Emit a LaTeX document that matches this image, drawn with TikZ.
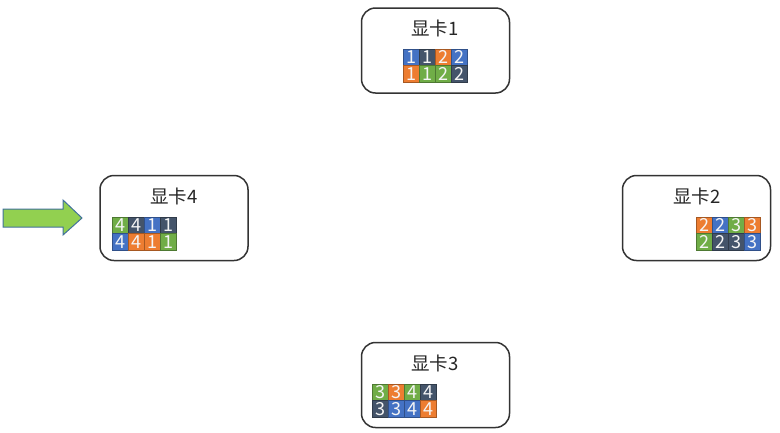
\documentclass[tikz,border=0pt]{standalone}
\usepackage{fontspec}
\setmainfont{Noto Sans CJK SC}
\usetikzlibrary{positioning}

\definecolor{cb}{RGB}{68,114,196}
\definecolor{cd}{RGB}{68,84,106}
\definecolor{co}{RGB}{237,125,49}
\definecolor{cg}{RGB}{112,173,71}
\definecolor{arrowgreen}{RGB}{146,208,80}
\definecolor{arrowedge}{RGB}{65,113,156}

\begin{document}
\begin{tikzpicture}[x=1pt, y=-1pt,
    card/.style={rectangle, rounded corners=14pt, draw=black!80, line width=1.5pt,
      minimum width=148pt, minimum height=85pt, fill=white},
    title/.style={font=\fontsize{18.5}{18.5}\selectfont, inner sep=0pt, text=black!85},
    cell/.style={rectangle, minimum width=16pt, minimum height=16.5pt, inner sep=0pt,
      text height=12.5pt, text depth=0pt, font=\fontsize{18}{18}\selectfont,
      text=white!92!gray, line width=0.6pt},
  ]
  \useasboundingbox (0,0) rectangle (780,432);

  % the four cards
  \node[card] (card1) at (435.5,50.5) {};
  \node[card] (card2) at (696.5,218) {};
  \node[card] (card3) at (435.5,385) {};
  \node[card] (card4) at (174,218) {};

  \node[title] (t1) at (435,28) {显卡1};
  \node[title] (t2) at (697,196) {显卡2};
  \node[title] (t3) at (435,363) {显卡3};
  \node[title] (t4) at (174,196) {显卡4};

  % card 1
  \foreach \c/\n [count=\i] in {cb/1,cd/1,co/2,cb/2}
    \node[cell, fill=\c, draw=\c!70!black] (a1\i) at (395+16*\i,57.25) {\n};
  \foreach \c/\n [count=\i] in {co/1,cg/1,cg/2,cd/2}
    \node[cell, fill=\c, draw=\c!70!black] (b1\i) at (395+16*\i,73.75) {\n};

  % card 2
  \foreach \c/\n [count=\i] in {co/2,cb/2,cg/3,co/3}
    \node[cell, fill=\c, draw=\c!70!black] (a2\i) at (688+16*\i,225.25) {\n};
  \foreach \c/\n [count=\i] in {cg/2,cd/2,cd/3,cb/3}
    \node[cell, fill=\c, draw=\c!70!black] (b2\i) at (688+16*\i,241.75) {\n};

  % card 3
  \foreach \c/\n [count=\i] in {cg/3,co/3,cg/4,cd/4}
    \node[cell, fill=\c, draw=\c!70!black] (a3\i) at (364+16*\i,392.25) {\n};
  \foreach \c/\n [count=\i] in {cd/3,cb/3,cb/4,co/4}
    \node[cell, fill=\c, draw=\c!70!black] (b3\i) at (364+16*\i,408.75) {\n};

  % card 4
  \foreach \c/\n [count=\i] in {cg/4,cd/4,cb/1,cd/1}
    \node[cell, fill=\c, draw=\c!70!black] (a4\i) at (104+16*\i,225.25) {\n};
  \foreach \c/\n [count=\i] in {cb/4,co/4,co/1,cg/1}
    \node[cell, fill=\c, draw=\c!70!black] (b4\i) at (104+16*\i,241.75) {\n};

  % input arrow
  \draw[fill=arrowgreen, draw=arrowedge, line width=1pt]
    (3,209) -- (63,209) -- (63,200) -- (82,218) -- (63,235) -- (63,227) -- (3,227) -- cycle;
\end{tikzpicture}
\end{document}
